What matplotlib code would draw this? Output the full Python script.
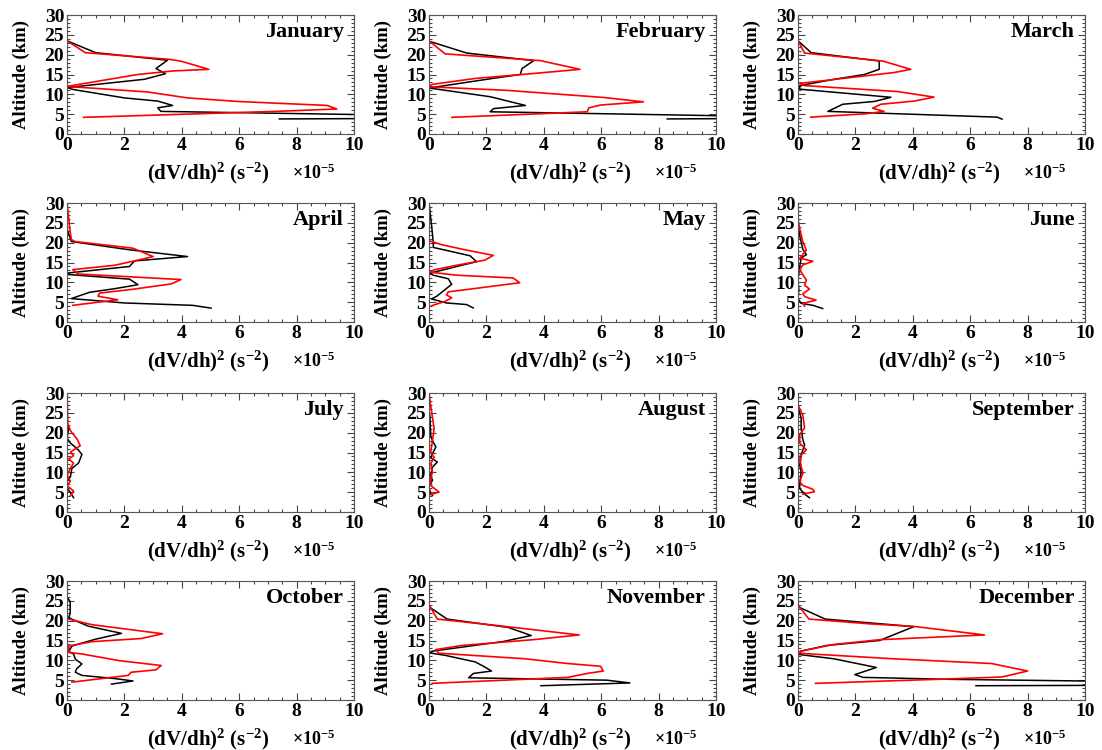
import numpy as np
import matplotlib
matplotlib.use("Agg")
from matplotlib import pyplot as plt
from matplotlib.ticker import MultipleLocator

plt.rcParams['font.family'] = ['Liberation Serif', 'DejaVu Serif']
plt.rcParams['font.weight'] = 'bold'
plt.rcParams['mathtext.fontset'] = 'custom'
plt.rcParams['mathtext.rm'] = 'Liberation Serif:bold'
plt.rcParams['mathtext.bf'] = 'Liberation Serif:bold'
plt.rcParams['mathtext.it'] = 'Liberation Serif:bold:italic'
plt.rcParams['mathtext.default'] = 'bf'

months = ["January", "February", "March", "April", "May", "June",
          "July", "August", "September", "October", "November", "December"]

# (dV/dh)^2 in units of 1e-5 s^-2, altitude in km
# black profiles
jan_k_x = [0, 0, 1.0, 3.5, 3.1, 3.43, 2.7, 0, 0.23, 2.0, 3.16, 3.68, 3.16, 3.27, 11.0, 11.0, 7.4]
jan_k_h = [30, 23.5, 20.5, 18.6, 16.5, 15.2, 13.8, 11.7, 11.2, 9.1, 8.3, 7.2, 6.6, 5.7, 4.8, 3.9, 3.8]
feb_k_x = [0, 0, 1.32, 3.65, 3.24, 3.18, 2.3, 0, 2.13, 3.36, 2.25, 2.13, 11.0, 11.0, 8.3]
feb_k_h = [30, 23.4, 20.4, 18.5, 16.5, 15.0, 14.1, 11.6, 9.4, 7.2, 6.4, 5.6, 4.5, 3.9, 3.8]
mar_k_x = [0, 0, 0.46, 2.83, 2.83, 2.31, 1.27, 0.06, 0.06, 3.24, 2.66, 1.56, 1.04, 6.94, 7.11]
mar_k_h = [30, 23.5, 20.5, 18.4, 16.3, 15.0, 13.8, 12.2, 11.3, 9.25, 8.2, 7.5, 5.7, 4.25, 3.75]
apr_k_x = [0, 0, 0.15, 2.18, 4.2, 2.35, 2.18, 0.03, 0, 2.18, 2.47, 1.66, 0.79, 0.15, 2.0, 4.38, 5.02]
apr_k_h = [30, 23.5, 20.3, 18.2, 16.5, 15.4, 14.0, 12.35, 12.0, 10.8, 9.4, 8.4, 7.5, 5.9, 4.8, 4.2, 3.5]
may_k_x = [0, 0.09, 0.15, 0.15, 1.43, 1.66, 1.08, 0.03, 0.15, 0.67, 0.79, 0.27, 0.09, 0.61, 1.31, 1.54]
may_k_h = [30, 24.3, 20.0, 18.8, 16.7, 15.2, 14.2, 12.3, 11.8, 10.9, 9.5, 6.5, 5.8, 4.8, 4.4, 3.55]
jun_k_x = [0, 0, 0.06, 0.17, 0.29, 0.11, 0.06, 0, 0.03, 0, 0.11, 0.52, 0.86]
jun_k_h = [30, 25, 21.7, 18.3, 17.0, 16.1, 14.0, 10.6, 8.1, 5.9, 4.7, 4.2, 3.4]
jul_k_x = [0, 0, 0.06, 0, 0.12, 0.4, 0.52, 0.4, 0.17, 0.12, 0, 0, 0.12, 0.23]
jul_k_h = [30, 22, 21.1, 18.6, 17.4, 15.6, 14.5, 12.3, 11.0, 8.9, 7.7, 6.0, 4.9, 3.6]
aug_k_x = [0, 0, 0.03, 0.06, 0.12, 0.24, 0.12, 0.06, 0.29, 0.12, 0.06, 0.12, 0, 0.06, 0.12]
aug_k_h = [30, 25, 24.3, 19.3, 18.0, 16.4, 14.7, 13.7, 12.6, 11.3, 9.2, 8.0, 6.3, 4.6, 4.2]
sep_k_x = [0, 0, 0.11, 0.11, 0.17, 0.23, 0.11, 0.06, 0.11, 0.06, 0.06, 0.23, 0.4]
sep_k_h = [30, 26.5, 23.6, 21.1, 18.2, 16.9, 14.4, 11.8, 10.1, 7.2, 5.9, 4.5, 3.6]
oct_k_x = [0, 0, 0.11, 0.11, 0.06, 0.75, 1.9, 0.98, 0.17, 0.06, 0.23, 0.29, 0.52, 0.34, 0.29, 0.52, 1.67, 2.3, 1.55]
oct_k_h = [30, 26, 24.8, 21.9, 20.7, 18.6, 16.8, 15.3, 13.6, 12.2, 11.6, 10.3, 9.1, 7.9, 7.0, 6.2, 5.4, 4.8, 4.0]
nov_k_x = [0, 0, 0.63, 2.76, 3.56, 2.59, 0.11, 0, 0.57, 1.61, 1.9, 2.18, 1.55, 1.38, 6.2, 7.0, 3.9]
nov_k_h = [30, 23.5, 20.4, 18.3, 16.25, 14.75, 12.3, 11.9, 11.25, 9.6, 8.5, 7.3, 6.7, 5.6, 5.0, 4.3, 3.6]
dec_k_x = [0, 0, 0.95, 4.04, 2.84, 1.0, 0.09, 0, 1.24, 2.73, 1.98, 2.27, 5.36, 11.0, 11.0, 6.2]
dec_k_h = [30, 23.5, 20.4, 18.5, 15.0, 13.75, 12.3, 11.5, 10.4, 8.2, 6.4, 5.7, 5.2, 4.7, 3.7, 3.6]

# red profiles
jan_r_x = [0, 0, 0.64, 3.6, 4.0, 4.94, 3.7, 2.46, 0, 2.8, 4.2, 5.96, 9.06, 9.4, 7.25, 0.58]
jan_r_h = [30, 23.5, 20.5, 18.8, 18.3, 16.3, 15.9, 15.0, 12.0, 10.6, 9.1, 8.2, 7.2, 6.3, 5.7, 4.2]
feb_r_x = [0, 0, 0.56, 3.88, 5.26, 3.24, 1.6, 0.1, 0, 2.72, 6.1, 7.47, 5.98, 5.57, 5.51, 0.8]
feb_r_h = [30, 23.5, 20.2, 18.5, 16.3, 15.0, 14.0, 12.5, 11.9, 11.0, 9.2, 8.1, 7.3, 6.6, 5.6, 4.2]
mar_r_x = [0, 0, 0.23, 2.95, 3.93, 3.35, 0.06, 0.23, 3.47, 4.74, 4.05, 2.89, 2.6, 3.0, 2.37, 0.44]
mar_r_h = [30, 23.5, 20.4, 18.4, 16.3, 15.5, 12.75, 12.2, 10.7, 9.3, 8.3, 7.5, 6.5, 5.7, 5.1, 4.25]
apr_r_x = [0, 0.1, 0.15, 0.27, 2.3, 3.0, 2.35, 1.66, 0.2, 0.38, 3.97, 3.63, 2.24, 1.14, 1.08, 1.77, 0.2]
apr_r_h = [30, 23.5, 20.8, 20.3, 18.6, 16.5, 15.4, 14.3, 13.2, 12.1, 10.7, 9.6, 8.2, 7.3, 6.5, 5.6, 4.2]
may_r_x = [0, 0, 0.44, 1.19, 2.24, 1.95, 0.96, 0.21, 0, 0.96, 2.93, 3.16, 1.66, 0.67, 0.61, 0.79, 0.56, 0.09]
may_r_h = [30, 20.5, 19.5, 18.3, 16.8, 15.6, 14.3, 13.2, 12.6, 11.8, 11.1, 9.9, 8.5, 7.6, 6.8, 6.1, 5.2, 4.1]
jun_r_x = [0, 0, 0.06, 0.17, 0.29, 0.06, 0.52, 0.17, 0.06, 0.29, 0.23, 0.4, 0.17, 0.23, 0.63, 0.17, 0.23]
jun_r_h = [30, 26, 23.5, 20.2, 18.1, 16.1, 15.3, 14.4, 13.1, 10.6, 9.3, 8.3, 7.1, 6.4, 5.5, 4.7, 4.0]
jul_r_x = [0, 0.03, 0.12, 0.35, 0.46, 0.12, 0.23, 0.06, 0.23, 0.12, 0, 0.12, 0, 0.23, 0.12]
jul_r_h = [30, 22.2, 20.5, 18.4, 16.7, 15.1, 14.2, 13.4, 12.3, 11.1, 9.1, 7.8, 6.6, 5.3, 4.1]
aug_r_x = [0, 0.06, 0.18, 0.12, 0.06, 0.18, 0.06, 0.12, 0.06, 0.06, 0.35, 0.06]
aug_r_h = [30, 26.8, 21.0, 18.0, 15.1, 13.8, 12.2, 10.1, 8.4, 6.7, 5.0, 4.4]
sep_r_x = [0, 0, 0.17, 0.23, 0.06, 0.06, 0.29, 0.06, 0.11, 0.17, 0.06, 0.17, 0.52, 0.57, 0.17]
sep_r_h = [30, 27, 24.3, 21.2, 19.5, 17.4, 15.7, 14.0, 11.5, 9.8, 7.6, 6.7, 5.7, 5.1, 4.5]
oct_r_x = [0, 0, 0.86, 3.33, 2.59, 0.86, 0.06, 0.06, 0.52, 1.84, 3.28, 3.1, 2.24, 2.13, 0.17]
oct_r_h = [30, 20.5, 19.0, 16.7, 15.5, 14.7, 13.6, 12.0, 11.6, 9.9, 8.7, 7.6, 7.0, 6.2, 4.5]
nov_r_x = [0, 0, 0.29, 2.41, 5.23, 3.62, 1.15, 0.23, 0.34, 3.33, 4.83, 5.98, 6.07, 5.52, 4.83, 0.11]
nov_r_h = [30, 24, 20.4, 18.75, 16.4, 15.2, 13.75, 12.7, 11.8, 10.4, 9.2, 8.5, 7.3, 6.7, 5.7, 4.2]
dec_r_x = [0, 0, 0.38, 2.5, 4.1, 6.5, 2.84, 1.24, 0.09, 0, 3.3, 6.74, 8.0, 7.1, 5.0, 0.61]
dec_r_h = [30, 24, 20.4, 19.2, 18.5, 16.4, 15.2, 14.0, 12.3, 11.8, 10.4, 9.2, 7.3, 5.8, 5.25, 4.2]

black = [(jan_k_x, jan_k_h), (feb_k_x, feb_k_h), (mar_k_x, mar_k_h), (apr_k_x, apr_k_h),
         (may_k_x, may_k_h), (jun_k_x, jun_k_h), (jul_k_x, jul_k_h), (aug_k_x, aug_k_h),
         (sep_k_x, sep_k_h), (oct_k_x, oct_k_h), (nov_k_x, nov_k_h), (dec_k_x, dec_k_h)]
red = [(jan_r_x, jan_r_h), (feb_r_x, feb_r_h), (mar_r_x, mar_r_h), (apr_r_x, apr_r_h),
       (may_r_x, may_r_h), (jun_r_x, jun_r_h), (jul_r_x, jul_r_h), (aug_r_x, aug_r_h),
       (sep_r_x, sep_r_h), (oct_r_x, oct_r_h), (nov_r_x, nov_r_h), (dec_r_x, dec_r_h)]

W, H = 1102, 750
col_left = [67, 429, 798]
row_top = [15, 203, 393, 581]
ax_w, ax_h = 287, 119

fig = plt.figure(figsize=(W / 100, H / 100), dpi=100)

for i, name in enumerate(months):
    r, c = divmod(i, 3)
    left = col_left[c] / W
    bottom = 1 - (row_top[r] + ax_h) / H
    ax = fig.add_axes([left, bottom, ax_w / W, ax_h / H])

    kx, kh = black[i]
    rx, rh = red[i]
    ax.plot(kx, kh, color='black', lw=1.1)
    ax.plot(rx, rh, color='red', lw=1.2)

    ax.set_xlim(0, 10)
    ax.set_ylim(0, 30)
    ax.xaxis.set_major_locator(MultipleLocator(2))
    ax.xaxis.set_minor_locator(MultipleLocator(0.5))
    ax.yaxis.set_major_locator(MultipleLocator(5))
    ax.yaxis.set_minor_locator(MultipleLocator(1))
    ax.tick_params(which='both', direction='in', top=True, right=True,
                   labelsize=14, width=0.8, color='#444444')
    ax.tick_params(which='major', length=5, pad=2)
    ax.tick_params(which='minor', length=2.5)
    for sp in ax.spines.values():
        sp.set_linewidth(0.8)
        sp.set_color('#555555')

    ax.set_ylabel("Altitude (km)", fontsize=13.5, fontweight='bold')
    ax.yaxis.set_label_coords(-0.13, 0.5)
    ax.text(0.49, -0.33, r"(dV/dh)$^{2}$ (s$^{-2}$)", transform=ax.transAxes,
            ha='center', va='center', fontsize=15, fontweight='bold')
    ax.text(0.785, -0.33, r"×10$^{-5}$", transform=ax.transAxes,
            ha='left', va='center', fontsize=13, fontweight='bold')
    ax.text(0.965, 0.855, name, transform=ax.transAxes, ha='right', va='center',
            fontsize=16, fontweight='bold')

fig.savefig("out.png", dpi=100)
